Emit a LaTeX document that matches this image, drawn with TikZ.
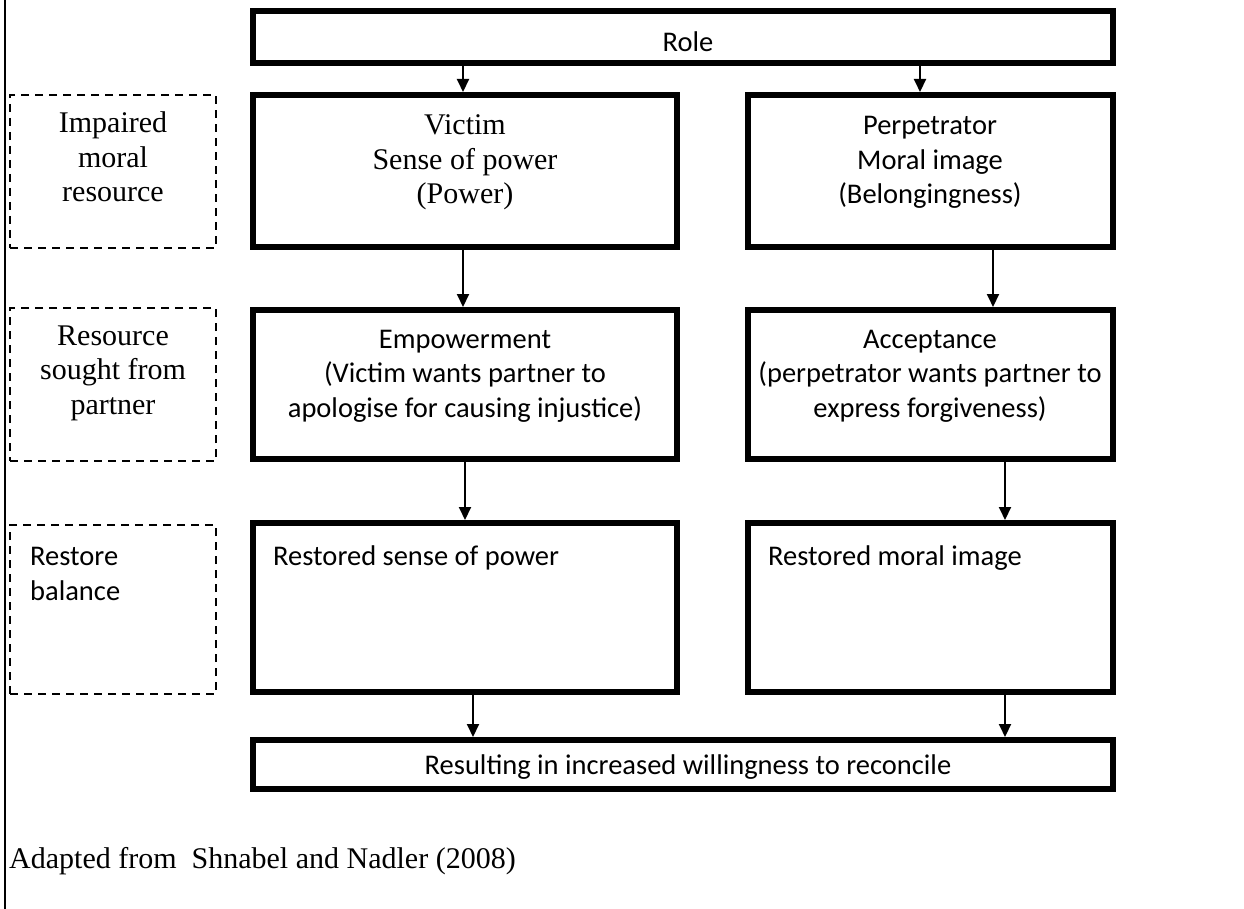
\documentclass[tikz,border=0pt]{standalone}
\usepackage{fontspec}
\setmainfont{Liberation Serif}
\newfontfamily\sans{Carlito}
\usetikzlibrary{arrows.meta}
\tikzset{
  box/.style={draw, line width=6pt, inner sep=0pt},
  dbox/.style={draw, line width=2pt, dash pattern=on 8pt off 6pt, inner sep=0pt},
  arr/.style={line width=2pt, -{Triangle[width=12pt,length=13pt]}},
  ser/.style={font=\fontsize{30}{34.5}\selectfont, inner sep=0pt, anchor=base},
  san/.style={font=\sans\fontsize{28.5}{34.5}\selectfont, inner sep=0pt, anchor=base},
}
\begin{document}
\begin{tikzpicture}[x=1pt,y=-1pt]
\useasboundingbox (0,0) rectangle (1244,909);
\draw[line width=2pt] (5,0) -- (5,909);
% main boxes
\node[box, minimum width=860pt, minimum height=52pt] (role) at (683,37) {};
\node[box, minimum width=424pt, minimum height=152pt] (victim) at (465,171) {};
\node[box, minimum width=365pt, minimum height=152pt] (perp) at (930.5,171) {};
\node[box, minimum width=424pt, minimum height=149pt] (emp) at (465,384.5) {};
\node[box, minimum width=365pt, minimum height=149pt] (acc) at (930.5,384.5) {};
\node[box, minimum width=424pt, minimum height=169pt] (rs) at (465,607.5) {};
\node[box, minimum width=365pt, minimum height=169pt] (rm) at (930.5,607.5) {};
\node[box, minimum width=860pt, minimum height=49pt] (res) at (683,764.5) {};
% dashed boxes
\node[dbox, minimum width=206pt, minimum height=153pt] (d1) at (113,171.5) {};
\node[dbox, minimum width=206pt, minimum height=153pt] (d2) at (113,384.5) {};
\node[dbox, minimum width=206pt, minimum height=169pt] (d3) at (113,609.5) {};
% texts
\node[san] (troleA) at (688,52) {Role};
\node[ser] (tvA) at (465,135) {Victim};
\node[ser] (tvB) at (465,169.5) {Sense of power};
\node[ser] (tvC) at (465,204) {(Power)};
\node[san] (tpA) at (930,135) {Perpetrator};
\node[san] (tpB) at (930,169.5) {Moral image};
\node[san] (tpC) at (930,204) {(Belongingness)};
\node[san] (teA) at (465,348) {Empowerment};
\node[san] (teB) at (465,382.5) {(Victim wants partner to};
\node[san] (teC) at (465,417) {apologise for causing injustice)};
\node[san] (taA) at (930,348) {Acceptance};
\node[san] (taB) at (930,382.5) {(perpetrator wants partner to};
\node[san] (taC) at (930,417) {express forgiveness)};
\node[san, anchor=base west] (trs) at (273,565) {Restored sense of power};
\node[san, anchor=base west] (trm) at (768,565) {Restored moral image};
\node[san] (tres) at (688,774) {Resulting in increased willingness to reconcile};
\node[ser] (tdA) at (113,133) {Impaired};
\node[ser] (tdB) at (113,167.5) {moral};
\node[ser] (tdC) at (113,202) {resource};
\node[ser] (tdD) at (113,345) {Resource};
\node[ser] (tdE) at (113,379.5) {sought from};
\node[ser] (tdF) at (113,414) {partner};
\node[san, anchor=base west] (tdG) at (30,565) {Restore};
\node[san, anchor=base west] (tdH) at (30,600) {balance};
\node[ser, anchor=base west] (cap) at (9,868) {Adapted from\ \ Shnabel and Nadler (2008)};
% connector x positions
\coordinate (xA) at (463,0);
\coordinate (xB) at (920,0);
\coordinate (xC) at (993,0);
\coordinate (xD) at (465,0);
\coordinate (xE) at (1005,0);
\coordinate (xF) at (473,0);
\draw[arr] (role.south -| xA) -- (victim.north -| xA);
\draw[arr] (role.south -| xB) -- (perp.north -| xB);
\draw[arr] (victim.south -| xA) -- (emp.north -| xA);
\draw[arr] (perp.south -| xC) -- (acc.north -| xC);
\draw[arr] (emp.south -| xD) -- (rs.north -| xD);
\draw[arr] (acc.south -| xE) -- (rm.north -| xE);
\draw[arr] (rs.south -| xF) -- (res.north -| xF);
\draw[arr] (rm.south -| xE) -- (res.north -| xE);
\end{tikzpicture}
\end{document}
